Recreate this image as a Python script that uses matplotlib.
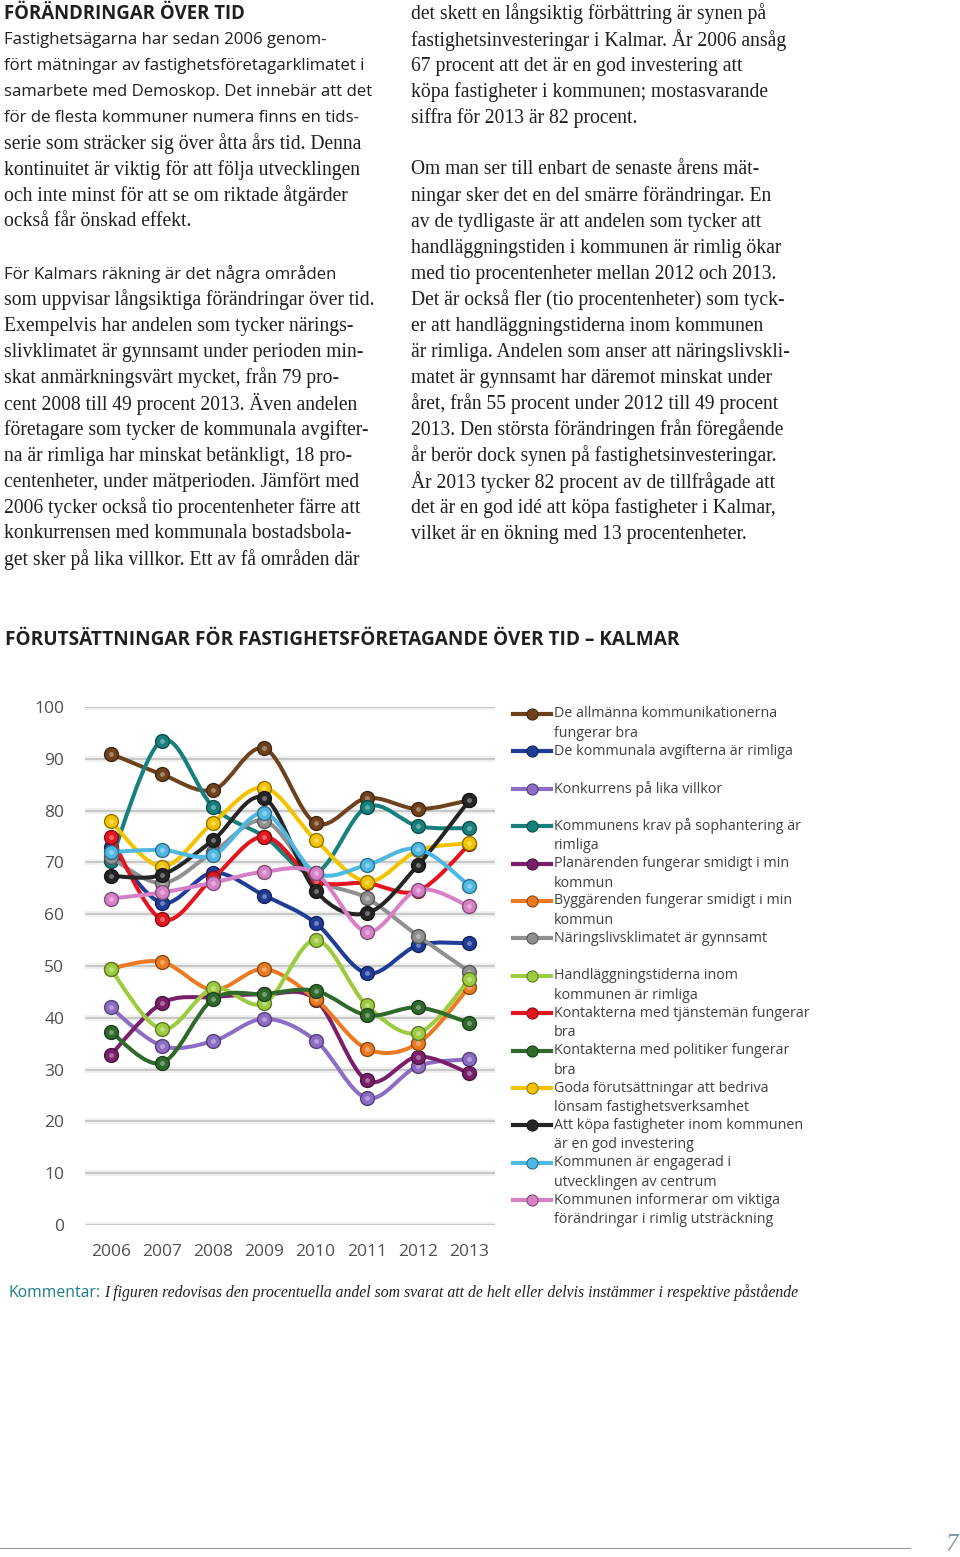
import numpy as np
import matplotlib
matplotlib.use("Agg")
import matplotlib.pyplot as plt
from matplotlib.path import Path
from matplotlib.patches import PathPatch
from matplotlib.lines import Line2D

# Data (percent agreeing), 2006-2013
years = ['2006', '2007', '2008', '2009', '2010', '2011', '2012', '2013']

allmanna_kommunikationer = [91, 87, 84, 92, 77.6, 82.4, 80.3, 82]
kommunala_avgifter = [73, 62.2, 68, 63.6, 58.3, 48.6, 54, 54.4]
konkurrens = [42, 34.6, 35.5, 39.8, 35.6, 24.5, 30.7, 32]
sophantering = [70.2, 93.5, 80.7, 75, 68, 80.7, 77, 76.6]
planarenden = [32.8, 42.8, 44, 44.5, 43.5, 27.9, 32.5, 29.3]
byggarenden = [49.5, 50.8, 45.4, 49.4, 43.6, 34, 35.1, 46]
naringslivsklimat = [71, 66, 72, 78, 67, 63.1, 55.8, 48.9]
handlaggningstider = [49.4, 37.8, 45.7, 42.8, 55, 42.4, 37.1, 47.4]
tjanstemans_kontakt = [75, 59, 67, 75, 66.5, 66, 64.5, 73.5]
politiker_kontakt = [37.3, 31.3, 43.6, 44.6, 45.2, 40.5, 42, 39]
forutsattningar = [78, 69.2, 77.7, 84.4, 74.3, 66.3, 72.3, 73.7]
kopa_fastigheter = [67.4, 67.6, 74.3, 82.4, 64.5, 60.2, 69.5, 82]
engagerad_centrum = [72, 72.4, 71.4, 79.5, 68, 69.5, 72.6, 65.5]
informerar = [63, 64.2, 66.1, 68.2, 67.9, 56.6, 64.7, 61.5]

series = [
    ("De allmänna kommunikationerna\nfungerar bra", allmanna_kommunikationer, "#6e421c"),
    ("De kommunala avgifterna är rimliga", kommunala_avgifter, "#1f3c96"),
    ("Konkurrens på lika villkor", konkurrens, "#8d6cc4"),
    ("Kommunens krav på sophantering är\nrimliga", sophantering, "#17807d"),
    ("Planärenden fungerar smidigt i min\nkommun", planarenden, "#7a1f6a"),
    ("Byggärenden fungerar smidigt i min\nkommun", byggarenden, "#ec7a22"),
    ("Näringslivsklimatet är gynnsamt", naringslivsklimat, "#8f8f8f"),
    ("Handläggningstiderna inom\nkommunen är rimliga", handlaggningstider, "#9dcb3f"),
    ("Kontakterna med tjänstemän fungerar\nbra", tjanstemans_kontakt, "#e3161f"),
    ("Kontakterna med politiker fungerar\nbra", politiker_kontakt, "#2f6a2c"),
    ("Goda förutsättningar att bedriva\nlönsam fastighetsverksamhet", forutsattningar, "#f3c300"),
    ("Att köpa fastigheter inom kommunen\när en god investering", kopa_fastigheter, "#252525"),
    ("Kommunen är engagerad i\nutvecklingen av centrum", engagerad_centrum, "#4fb8e2"),
    ("Kommunen informerar om viktiga\nförändringar i rimlig utsträckning", informerar, "#d680c6"),
]

left_lines = [
    "Fastighetsägarna har sedan 2006 genom-",
    "fört mätningar av fastighetsföretagarklimatet i",
    "samarbete med Demoskop. Det innebär att det",
    "för de flesta kommuner numera finns en tids-",
    "serie som sträcker sig över åtta års tid. Denna",
    "kontinuitet är viktig för att följa utvecklingen",
    "och inte minst för att se om riktade åtgärder",
    "också får önskad effekt.",
    "",
    "För Kalmars räkning är det några områden",
    "som uppvisar långsiktiga förändringar över tid.",
    "Exempelvis har andelen som tycker närings-",
    "slivklimatet är gynnsamt under perioden min-",
    "skat anmärkningsvärt mycket, från 79 pro-",
    "cent 2008 till 49 procent 2013. Även andelen",
    "företagare som tycker de kommunala avgifter-",
    "na är rimliga har minskat betänkligt, 18 pro-",
    "centenheter, under mätperioden. Jämfört med",
    "2006 tycker också tio procentenheter färre att",
    "konkurrensen med kommunala bostadsbola-",
    "get sker på lika villkor. Ett av få områden där",
]
sans_lines = {0, 1, 2, 3, 9}

right_lines = [
    "det skett en långsiktig förbättring är synen på",
    "fastighetsinvesteringar i Kalmar. År 2006 ansåg",
    "67 procent att det är en god investering att",
    "köpa fastigheter i kommunen; mostasvarande",
    "siffra för 2013 är 82 procent.",
    "",
    "Om man ser till enbart de senaste årens mät-",
    "ningar sker det en del smärre förändringar. En",
    "av de tydligaste är att andelen som tycker att",
    "handläggningstiden i kommunen är rimlig ökar",
    "med tio procentenheter mellan 2012 och 2013.",
    "Det är också fler (tio procentenheter) som tyck-",
    "er att handläggningstiderna inom kommunen",
    "är rimliga. Andelen som anser att näringslivskli-",
    "matet är gynnsamt har däremot minskat under",
    "året, från 55 procent under 2012 till 49 procent",
    "2013. Den största förändringen från föregående",
    "år berör dock synen på fastighetsinvesteringar.",
    "År 2013 tycker 82 procent av de tillfrågade att",
    "det är en god idé att köpa fastigheter i Kalmar,",
    "vilket är en ökning med 13 procentenheter.",
]

W, H = 960, 1557
fig = plt.figure(figsize=(W / 100, H / 100), dpi=100)
fig.patch.set_facecolor("white")

SANS = ["Open Sans", "DejaVu Sans"]
SERIF = ["Liberation Serif", "DejaVu Serif"]
TXT = "#231f20"


def fx(x):
    return x / W


def fy(y):
    return 1 - y / H


# page text
fig.text(fx(4), fy(14), "FÖRÄNDRINGAR ÖVER TID", family=SANS, weight="bold",
         fontsize=13.4, color=TXT, va="center")
for i, line in enumerate(left_lines):
    if line:
        fam = SANS if i in sans_lines else SERIF
        fs = 12.1 if i in sans_lines else 14.1
        fig.text(fx(4), fy(40 + 26 * i), line, family=fam, fontsize=fs, color=TXT, va="center")
for i, line in enumerate(right_lines):
    if line:
        fig.text(fx(411), fy(14 + 26 * i), line, family=SERIF, fontsize=14.1, color=TXT, va="center")

fig.text(fx(5), fy(640), "FÖRUTSÄTTNINGAR FÖR FASTIGHETSFÖRETAGANDE ÖVER TID – KALMAR",
         family=SANS, weight="bold", fontsize=13.7, color=TXT, va="center")

# chart
ax = fig.add_axes([fx(85), fy(1225), fx(495) - fx(85), fy(707) - fy(1225)])
ax.set_xlim(-0.5, 7.5)
ax.set_ylim(0, 100)
for s in ax.spines.values():
    s.set_visible(False)
ax.set_xticks(range(len(years)))
ax.set_xticklabels(years)
ax.set_yticks(range(0, 101, 10))
ax.tick_params(length=0, labelsize=12.5, labelcolor="#505050", pad=14)
ax.tick_params(axis="y", pad=15)
for lab in ax.get_xticklabels() + ax.get_yticklabels():
    lab.set_family(SANS)
for v in range(0, 101, 10):
    ax.axhline(v, color="#eeeeee", lw=4, zorder=0.5)
    ax.axhline(v, color="#c4c4c4", lw=1.3, zorder=0.6)

xs = np.arange(len(years), dtype=float)


def smooth_path(x, y):
    pts = np.column_stack([x, y])
    verts = [pts[0]]
    codes = [Path.MOVETO]
    n = len(pts)
    for i in range(n - 1):
        p0 = pts[i - 1] if i > 0 else pts[i]
        p1 = pts[i]
        p2 = pts[i + 1]
        p3 = pts[i + 2] if i + 2 < n else pts[i + 1]
        c1 = p1 + (p2 - p0) / 6
        c2 = p2 - (p3 - p1) / 6
        verts += [c1, c2, p2]
        codes += [Path.CURVE4] * 3
    return Path(verts, codes)


def darker(c, f=0.6):
    r, g, b = matplotlib.colors.to_rgb(c)
    return (r * f, g * f, b * f)


def lighter(c, f=0.5):
    r, g, b = matplotlib.colors.to_rgb(c)
    return (r + (1 - r) * f, g + (1 - g) * f, b + (1 - b) * f)


for k, (name, vals, col) in enumerate(series):
    z = 2 + k
    ax.add_patch(PathPatch(smooth_path(xs, np.array(vals)), fc="none", ec=col, lw=2.9,
                           zorder=z, capstyle="round"))
    ax.plot(xs, vals, "o", ms=10, mfc=col, mec=darker(col), mew=1.0, zorder=z + 0.1)
    ax.plot(xs, vals, "o", ms=3.5, mfc=lighter(col, 0.45), mec="none", zorder=z + 0.2,
            alpha=0.8)

# legend drawn by hand so the marker sits on the first text line
for k, (name, vals, col) in enumerate(series):
    y = 714 + 37.4 * k
    fig.add_artist(Line2D([fx(513), fx(551)], [fy(y), fy(y)], color=col, lw=3))
    fig.add_artist(Line2D([fx(532)], [fy(y)], marker="o", ms=8, mfc=col, mec=darker(col),
                          mew=0.8))
    for j, part in enumerate(name.split("\n")):
        fig.text(fx(554), fy(y + 19.5 * j), part, family=SANS, fontsize=10.3,
                 color="#404040", va="center")

# comment line
fig.text(fx(8), fy(1293), "Kommentar:", family=SANS, fontsize=11.3, color="#1c7d8c", va="center")
fig.text(fx(104), fy(1293),
         "I figuren redovisas den procentuella andel som svarat att de helt eller delvis instämmer i respektive påstående",
         family=SERIF, style="italic", fontsize=11.35, color=TXT, va="center")

# page footer
fig.add_artist(Line2D([0, fx(910)], [fy(1548), fy(1548)], color="#9a9a9a", lw=0.8))
fig.text(fx(952), fy(1545), "7", family=SERIF, style="italic", fontsize=18,
         color="#7f95a8", ha="center", va="center")

fig.savefig("out.png", dpi=100, facecolor="white")
